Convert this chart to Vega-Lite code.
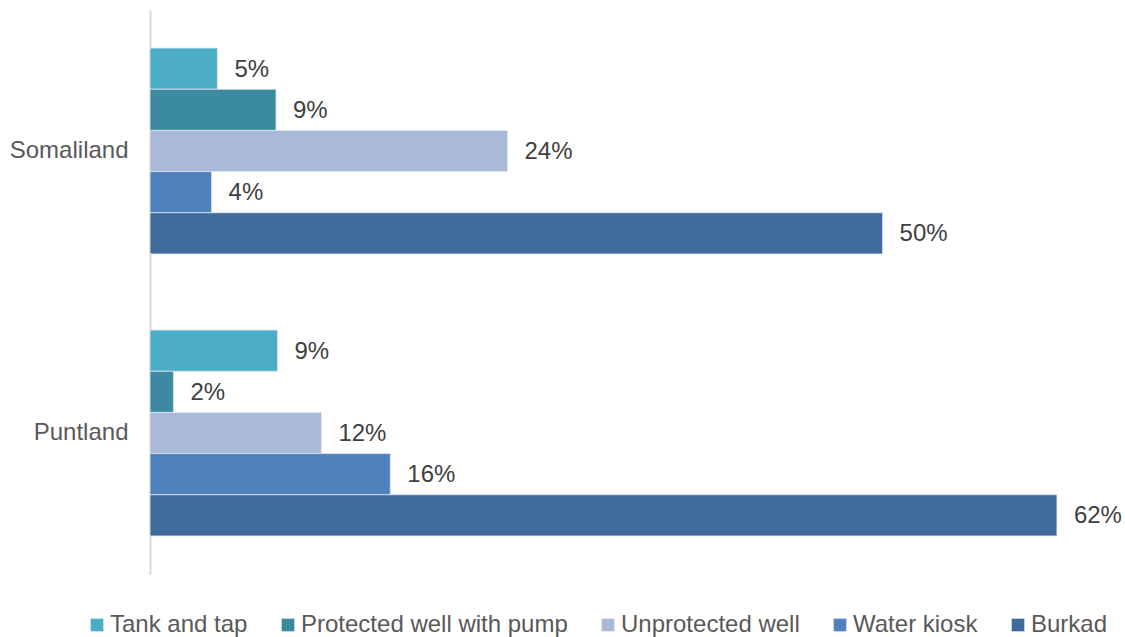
{
  "$schema": "https://vega.github.io/schema/vega-lite/v6.json",
  "width": 967,
  "height": 564,
  "autosize": {"type": "none"},
  "padding": {"left": 150, "top": 10, "right": 8, "bottom": 63},
  "background": "white",
  "config": {
    "view": {"stroke": null},
    "font": "Liberation Sans"
  },
  "data": {
    "values": [
      {"region": "Somaliland", "source": "Tank and tap", "value": 0.046},
      {"region": "Somaliland", "source": "Protected well with pump", "value": 0.086},
      {"region": "Somaliland", "source": "Unprotected well", "value": 0.244},
      {"region": "Somaliland", "source": "Water kiosk", "value": 0.042},
      {"region": "Somaliland", "source": "Burkad", "value": 0.5},
      {"region": "Puntland", "source": "Tank and tap", "value": 0.087},
      {"region": "Puntland", "source": "Protected well with pump", "value": 0.016},
      {"region": "Puntland", "source": "Unprotected well", "value": 0.117},
      {"region": "Puntland", "source": "Water kiosk", "value": 0.164},
      {"region": "Puntland", "source": "Burkad", "value": 0.619}
    ]
  },
  "encoding": {
    "y": {
      "field": "region",
      "type": "nominal",
      "sort": ["Somaliland", "Puntland"],
      "scale": {"paddingInner": 0.27, "paddingOuter": 0.135},
      "axis": {
        "title": null,
        "ticks": false,
        "labelFontSize": 24,
        "labelColor": "#595959",
        "labelPadding": 22,
        "domainColor": "#d9d9d9",
        "domainWidth": 2
      }
    },
    "yOffset": {
      "field": "source",
      "type": "nominal",
      "sort": ["Tank and tap", "Protected well with pump", "Unprotected well", "Water kiosk", "Burkad"],
      "scale": {"paddingInner": 0, "paddingOuter": 0}
    },
    "x": {
      "field": "value",
      "type": "quantitative",
      "scale": {"domain": [0, 0.66], "nice": false},
      "axis": null
    }
  },
  "layer": [
    {
      "mark": {"type": "bar", "stroke": "#dce6f2", "strokeWidth": 0.8},
      "encoding": {
        "color": {
          "field": "source",
          "type": "nominal",
          "sort": ["Tank and tap", "Protected well with pump", "Unprotected well", "Water kiosk", "Burkad"],
          "scale": {
            "domain": ["Tank and tap", "Protected well with pump", "Unprotected well", "Water kiosk", "Burkad"],
            "range": ["#4bacc6", "#3b8aa0", "#aab9d7", "#4f81bd", "#3f6a9b"]
          },
          "legend": {
            "title": null,
            "orient": "none",
            "legendX": -65,
            "legendY": 603,
            "direction": "horizontal",
            "columns": 5,
            "symbolType": "square",
            "symbolSize": 160,
            "symbolStrokeWidth": 0,
            "labelFontSize": 24,
            "labelColor": "#595959",
            "labelOffset": 1,
            "columnPadding": 28,
            "labelLimit": 400
          }
        }
      }
    },
    {
      "mark": {"type": "text", "align": "left", "baseline": "middle", "dx": 17, "dy": 1, "fontSize": 24, "color": "#404040"},
      "encoding": {
        "text": {"field": "value", "type": "quantitative", "format": ".0%"}
      }
    }
  ]
}
